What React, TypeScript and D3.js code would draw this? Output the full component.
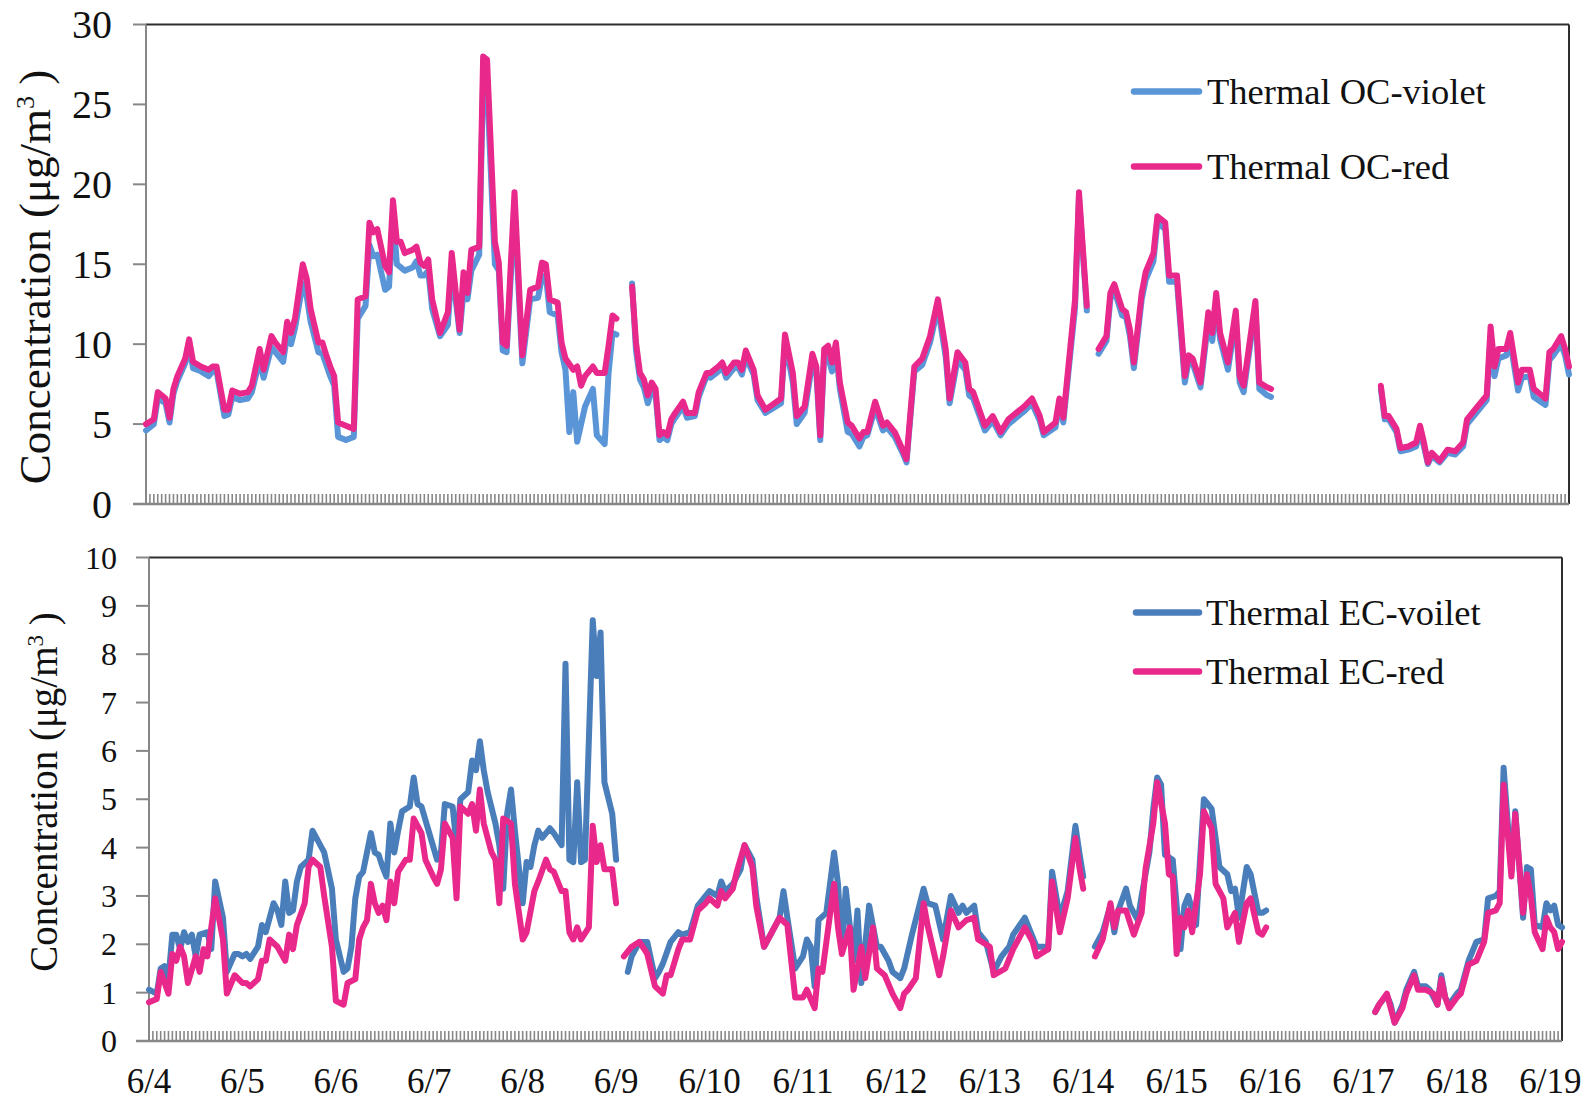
import React from "react";
import * as d3 from "d3";

type Pt = [number, number]; // [hour since 6/4 00:00, concentration]

const DAY_LABELS = ["6/4", "6/5", "6/6", "6/7", "6/8", "6/9", "6/10", "6/11", "6/12", "6/13", "6/14", "6/15", "6/16", "6/17", "6/18", "6/19"];
const HOURS_PER_DAY = 24;
const HOUR_COUNT = 364;

const OC_TICKS = [0, 5, 10, 15, 20, 25, 30];
const EC_TICKS = [0, 1, 2, 3, 4, 5, 6, 7, 8, 9, 10];

const OC_LEGEND = ["Thermal OC-violet", "Thermal OC-red"];
const EC_LEGEND = ["Thermal EC-voilet", "Thermal EC-red"];

// Hourly thermal OC, split into the measured runs
const ocViolet: Pt[][] = [
  [[0,4.6],[2,5.0],[3,6.6],[5,6.3],[6,5.1],[7,6.9],[8,7.7],[10,8.8],[11,9.9],[12,8.5],[14,8.3],[16,8.0],[17,8.3],[18,8.3],[20,5.5],[21,5.6],[22,6.7],[24,6.5],[26,6.6],[27,7.0],[29,9.0],[30,7.9],[32,9.8],[33,9.5],[35,8.9],[36,10.6],[37,10.0],[38,11.0],[40,13.8],[41,13.0],[42,11.4],[44,9.5],[45,9.4],[46,8.7],[47,8.0],[48,7.4],[49,4.2],[51,4.0],[53,4.2],[54,11.6],[56,12.4],[57,16.2],[58,15.5],[59,15.6],[61,13.4],[62,13.6],[63,18.2],[64,15.0],[65,14.8],[66,14.6],[68,14.8],[69,15.2],[70,14.3],[71,14.3],[72,14.6],[73,12.2],[75,10.5],[77,11.2],[78,14.8],[80,10.7],[81,13.3],[82,12.8],[83,14.6],[85,15.6],[86,26.5],[87,26.2],[89,15.0],[90,14.6],[91,9.6],[92,9.5],[94,18.5],[96,8.8],[98,12.8],[100,12.9],[101,14.2],[102,14.3],[103,12.0],[105,11.8],[106,9.5],[107,8.4],[108,4.5],[109,7.0],[110,3.9],[112,6.1],[114,7.2],[115,4.3],[117,3.75],[118,8.2],[119,10.7],[120,10.6]],
  [[124,13.8],[125,9.6],[126,7.8],[127,7.3],[128,6.3],[129,7.1],[130,6.8],[131,4.0],[132,4.2],[133,4.0],[134,5.0],[135,5.4],[137,6.1],[138,5.4],[140,5.5],[141,6.7],[143,8.0],[144,7.9],[146,8.3],[147,8.6],[148,7.9],[150,8.5],[151,8.6],[152,8.1],[153,9.2],[155,8.1],[156,6.5],[158,5.7],[160,6.0],[162,6.3],[163,10.2],[165,7.6],[166,5.0],[168,5.7],[170,8.9],[171,8.2],[172,4.0],[173,9.3],[174,9.2],[175,8.3],[176,9.6],[177,7.2],[179,4.5],[180,4.4],[182,3.6],[183,4.2],[184,4.3],[186,6.0],[188,4.6],[189,4.8],[191,4.2],[193,3.2],[194,2.6],[196,8.3],[198,8.7],[200,10.1],[202,12.3],[204,9.2],[205,6.3],[207,9.0],[209,8.4],[210,6.8],[211,6.6],[214,4.6],[216,5.2],[218,4.3],[220,5.0],[222,5.4],[224,5.8],[226,6.3],[228,5.2],[229,4.3],[232,4.8],[233,6.3],[234,5.1],[237,12.3],[238,19.2],[240,12.1]],
  [[243,9.4],[245,10.2],[246,12.8],[247,13.4],[249,11.8],[250,11.7],[251,10.5],[252,8.5],[254,12.8],[255,14.0],[257,15.2],[258,17.6],[260,17.2],[261,13.9],[263,13.9],[265,7.6],[266,9.0],[267,8.8],[269,7.3],[271,11.5],[272,10.2],[273,12.7],[274,10.3],[276,8.4],[278,11.6],[279,7.6],[280,7.0],[283,12.3],[284,7.2],[286,6.8],[287,6.7]],
  [[315,7.2],[316,5.3],[317,5.3],[319,4.5],[320,3.3],[322,3.4],[324,3.6],[325,4.6],[326,3.6],[327,2.5],[328,3.0],[330,2.6],[332,3.2],[334,3.1],[336,3.6],[337,5.0],[339,5.6],[342,6.5],[343,10.4],[344,8.0],[345,9.1],[347,9.3],[348,10.2],[350,7.1],[351,7.9],[353,8.0],[354,6.7],[357,6.2],[358,9.0],[359,9.3],[361,10.0],[362,9.3],[363,8.1]],
];

const ocRed: Pt[][] = [
  [[0,5.0],[2,5.3],[3,7.0],[5,6.6],[6,5.4],[7,7.2],[8,8.0],[10,9.1],[11,10.3],[12,8.9],[14,8.6],[16,8.4],[17,8.6],[18,8.6],[20,5.9],[21,5.9],[22,7.1],[24,6.9],[26,7.0],[27,7.4],[29,9.7],[30,8.4],[32,10.5],[33,10.1],[35,9.5],[36,11.4],[37,10.7],[38,11.6],[40,15.0],[41,14.1],[42,12.2],[44,10.1],[45,10.1],[46,9.3],[47,8.6],[48,8.0],[49,5.1],[51,4.9],[53,4.7],[54,12.8],[56,13.0],[57,17.6],[58,17.0],[59,17.2],[61,14.9],[62,14.5],[63,19.0],[64,16.4],[65,16.4],[66,15.7],[68,15.9],[69,16.1],[70,15.1],[71,14.9],[72,15.3],[73,12.8],[75,10.7],[77,12.0],[78,15.7],[80,10.9],[81,14.5],[82,13.2],[83,15.9],[85,16.1],[86,28.0],[87,27.8],[89,16.4],[90,15.1],[91,10.1],[92,9.9],[94,19.5],[96,9.3],[98,13.4],[100,13.6],[101,15.1],[102,15.0],[103,12.8],[105,12.6],[106,10.1],[107,9.1],[109,8.4],[110,8.6],[111,7.4],[112,8.0],[114,8.6],[115,8.2],[117,8.2],[118,9.9],[119,11.8],[120,11.6]],
  [[124,13.6],[125,10.1],[126,8.2],[127,7.8],[128,6.8],[129,7.6],[130,7.2],[131,4.3],[132,4.5],[133,4.3],[134,5.3],[135,5.7],[137,6.4],[138,5.7],[140,5.7],[141,7.0],[143,8.2],[144,8.2],[146,8.6],[147,8.85],[148,8.2],[150,8.85],[151,8.85],[152,8.4],[153,9.6],[155,8.4],[156,6.8],[158,5.9],[160,6.25],[162,6.6],[163,10.6],[165,8.2],[166,5.5],[168,6.1],[170,9.4],[171,8.6],[172,4.3],[173,9.7],[174,9.9],[175,8.85],[176,10.1],[177,7.6],[179,5.1],[180,4.9],[182,4.1],[183,4.5],[184,4.5],[186,6.4],[188,4.9],[189,5.1],[191,4.5],[193,3.4],[194,2.8],[196,8.6],[198,9.1],[200,10.5],[202,12.8],[204,9.7],[205,6.6],[207,9.5],[209,8.85],[210,7.2],[211,7.0],[214,4.9],[216,5.5],[218,4.5],[220,5.3],[222,5.7],[224,6.1],[226,6.6],[228,5.5],[229,4.5],[232,5.1],[233,6.6],[234,5.4],[237,12.8],[238,19.5],[240,12.4]],
  [[243,9.7],[245,10.5],[246,13.2],[247,13.75],[249,12.2],[250,12.0],[251,10.9],[252,8.85],[254,13.2],[255,14.5],[257,15.7],[258,18.0],[260,17.6],[261,14.3],[263,14.3],[265,8.0],[266,9.3],[267,9.1],[269,7.6],[271,12.0],[272,10.7],[273,13.2],[274,10.7],[276,8.85],[278,12.1],[279,8.0],[280,7.4],[283,12.7],[284,7.6],[286,7.3],[287,7.2]],
  [[315,7.4],[316,5.5],[317,5.5],[319,4.7],[320,3.5],[322,3.6],[324,3.85],[325,4.9],[326,3.85],[327,2.6],[328,3.2],[330,2.7],[332,3.4],[334,3.3],[336,3.85],[337,5.3],[339,5.9],[342,6.8],[343,11.1],[344,8.6],[345,9.7],[347,9.7],[348,10.7],[350,7.6],[351,8.4],[353,8.4],[354,7.2],[357,6.6],[358,9.5],[359,9.7],[361,10.5],[362,9.7],[363,8.6]],
];

// Hourly thermal EC, split into the measured runs
const ecViolet: Pt[][] = [
  [[0,1.06],[2,0.98],[3,1.5],[4,1.55],[5,1.3],[6,2.2],[7,2.2],[8,1.9],[9,2.25],[10,2.05],[11,2.2],[12,1.75],[13,2.2],[15,2.25],[16,1.9],[17,3.3],[19,2.55],[20,1.43],[22,1.8],[23,1.8],[24,1.75],[25,1.8],[26,1.7],[28,1.95],[29,2.4],[30,2.25],[32,2.85],[33,2.7],[34,2.4],[35,3.3],[36,2.65],[37,2.7],[38,3.3],[39,3.6],[41,3.75],[42,4.35],[44,4.05],[45,3.9],[47,3.15],[48,2.1],[50,1.43],[51,1.5],[52,1.95],[53,2.95],[54,3.4],[55,3.5],[57,4.3],[58,3.9],[59,3.85],[60,3.6],[61,3.4],[62,4.5],[63,3.9],[64,4.35],[65,4.75],[67,4.85],[68,5.45],[69,4.9],[70,4.85],[72,4.3],[74,3.75],[75,3.9],[76,4.9],[78,4.85],[79,4.05],[80,5.0],[82,5.15],[83,5.8],[84,5.6],[85,6.2],[86,5.6],[87,5.15],[89,4.5],[90,4.05],[91,3.15],[92,4.7],[93,5.2],[94,4.35],[96,2.85],[97,3.7],[98,3.6],[99,4.05],[100,4.35],[101,4.2],[103,4.4],[104,4.3],[106,4.05],[107,7.8],[108,3.75],[109,3.7],[110,5.35],[111,3.7],[112,3.75],[114,8.7],[115,7.55],[116,8.45],[117,5.35],[119,4.7],[120,3.75]],
  [[123,1.43],[124,1.75],[126,2.05],[128,2.05],[130,1.3],[131,1.43],[132,1.6],[134,2.05],[136,2.25],[137,2.2],[139,2.25],[141,2.8],[143,3.0],[144,3.1],[146,3.0],[147,3.3],[148,3.1],[150,3.25],[152,3.55],[153,4.05],[155,3.75],[156,3.0],[158,1.95],[160,2.25],[162,2.55],[163,3.1],[164,2.55],[166,1.5],[168,1.75],[169,2.1],[170,1.95],[171,1.13],[172,2.5],[174,2.65],[176,3.9],[177,3.25],[178,1.9],[179,3.15],[181,1.66],[182,2.7],[183,1.2],[185,2.8],[187,1.95],[188,1.95],[190,1.66],[191,1.43],[193,1.3],[194,1.5],[196,2.2],[199,3.15],[200,2.85],[202,2.8],[204,2.1],[206,3.0],[208,2.65],[209,2.8],[210,2.65],[212,2.8],[213,2.25],[215,2.05],[217,1.43],[219,1.75],[221,1.95],[222,2.2],[225,2.55],[226,2.35],[228,1.95],[230,1.95],[231,1.9],[232,3.5],[234,2.55],[236,3.1],[238,4.45],[239,3.9],[240,3.4]],
  [[243,1.95],[245,2.25],[247,2.8],[248,2.25],[249,2.7],[251,3.15],[252,2.8],[254,2.5],[255,3.0],[257,3.9],[258,4.8],[259,5.45],[260,5.3],[261,3.85],[263,3.75],[264,2.8],[265,1.9],[266,2.8],[267,3.0],[269,2.4],[270,3.75],[271,5.0],[273,4.8],[274,4.2],[275,3.6],[277,3.45],[278,3.1],[279,3.15],[280,2.55],[282,3.6],[283,3.45],[285,2.65],[286,2.65],[287,2.7]],
  [[315,0.6],[316,0.75],[318,0.95],[319,0.75],[320,0.38],[322,0.75],[323,1.06],[325,1.43],[326,1.13],[328,1.13],[329,1.06],[331,0.75],[332,1.36],[333,0.9],[334,0.75],[336,0.98],[337,1.06],[339,1.66],[341,2.05],[343,2.1],[344,2.95],[346,3.0],[347,3.1],[348,5.65],[350,3.5],[351,4.75],[353,2.55],[354,3.6],[355,3.55],[356,2.4],[358,2.35],[359,2.85],[360,2.7],[361,2.8],[362,2.4],[363,2.35]],
];

const ecRed: Pt[][] = [
  [[0,0.8],[2,0.87],[3,1.43],[5,0.98],[6,1.8],[7,1.66],[8,1.95],[9,1.75],[10,1.2],[12,1.75],[13,1.43],[14,1.9],[15,1.75],[17,2.95],[19,2.1],[20,0.98],[22,1.36],[24,1.2],[25,1.2],[26,1.13],[28,1.28],[29,1.66],[30,1.66],[31,2.1],[33,1.95],[35,1.66],[36,2.2],[37,1.9],[38,2.4],[40,2.85],[41,3.6],[42,3.75],[44,3.6],[45,3.0],[47,1.95],[48,0.83],[50,0.75],[51,1.2],[53,1.28],[54,2.1],[55,2.35],[56,2.5],[57,3.25],[58,2.85],[59,2.65],[60,2.8],[61,2.5],[62,3.3],[63,2.85],[64,3.5],[66,3.75],[67,3.75],[68,4.6],[70,4.3],[71,3.75],[73,3.4],[74,3.25],[75,3.55],[76,4.5],[78,4.2],[79,2.95],[80,4.85],[82,4.7],[83,4.9],[84,4.35],[85,5.2],[86,4.5],[88,3.9],[89,3.75],[90,2.85],[91,4.6],[93,4.5],[94,3.25],[96,2.1],[97,2.25],[99,3.1],[100,3.3],[102,3.75],[103,3.55],[104,3.5],[106,3.1],[107,3.1],[108,2.25],[109,2.1],[110,2.35],[111,2.1],[113,2.35],[114,4.45],[115,3.7],[116,4.05],[117,3.55],[119,3.55],[120,2.85]],
  [[122,1.75],[124,1.95],[126,2.05],[128,1.8],[130,1.13],[132,0.98],[133,1.36],[134,1.36],[136,1.9],[137,2.1],[139,2.1],[141,2.7],[143,2.85],[144,2.95],[146,2.8],[147,3.1],[148,2.95],[150,3.15],[151,3.5],[153,4.05],[155,3.6],[156,2.8],[158,1.95],[160,2.25],[162,2.55],[164,2.4],[166,0.9],[167,0.9],[168,0.9],[169,1.06],[171,0.68],[172,1.5],[173,1.43],[176,3.25],[177,2.35],[178,1.8],[180,2.35],[181,1.06],[183,1.95],[184,1.3],[186,2.35],[187,1.5],[189,1.36],[191,0.98],[193,0.68],[194,0.98],[195,1.06],[197,1.3],[199,2.85],[200,2.4],[203,1.36],[204,1.75],[206,2.7],[208,2.35],[210,2.5],[212,2.55],[213,2.1],[216,1.95],[217,1.36],[220,1.5],[222,1.9],[225,2.35],[227,2.05],[228,1.75],[231,1.9],[232,3.3],[234,2.25],[236,2.95],[238,4.2],[239,3.6],[240,3.15]],
  [[243,1.75],[245,2.1],[247,2.85],[248,2.35],[249,2.7],[251,2.7],[253,2.2],[255,2.65],[256,3.55],[258,4.5],[259,5.35],[261,4.5],[262,3.45],[263,3.4],[264,1.8],[265,2.55],[266,2.35],[267,2.7],[268,2.25],[270,3.45],[271,4.75],[273,4.4],[274,3.25],[275,3.1],[276,2.95],[277,2.35],[279,2.65],[280,2.05],[282,2.85],[283,2.95],[285,2.25],[286,2.2],[287,2.35]],
  [[315,0.6],[316,0.75],[318,0.98],[319,0.68],[320,0.38],[322,0.68],[323,0.98],[325,1.36],[326,1.06],[328,1.06],[330,0.98],[331,0.75],[332,1.28],[333,0.9],[334,0.68],[336,0.9],[337,0.98],[339,1.58],[341,1.66],[343,2.05],[344,2.65],[346,2.7],[347,2.85],[348,5.3],[350,3.4],[351,4.7],[353,2.65],[354,3.45],[355,3.0],[356,2.25],[358,1.9],[359,2.55],[360,2.35],[361,2.25],[362,1.9],[363,2.05]],
];

const FONT = '"Liberation Serif", "Times New Roman", Times, serif';
const PINK = "#E9288B";
const OC_BLUE = "#5A95D8";
const EC_BLUE = "#4A7EBB";
const AXIS_GRAY = "#878787";
const FRAME_DARK = "#2E2E2E";

interface Series { runs: Pt[][]; color: string }
interface PanelProps {
  left: number; right: number; top: number; bottom: number;
  yMax: number; ticks: number[]; tickFont: number; tickRight: number;
  titleX: number; titleY: number; titleFont: number;
  series: Series[];
  legendLabels: string[]; legendColors: string[]; legendYs: number[];
  legendX1: number; legendX2: number; legendTextX: number; legendFont: number;
  dayLabels?: { y: number; font: number };
}

function Panel(p: PanelProps) {
  const x = d3.scaleLinear().domain([0, HOUR_COUNT - 1]).range([p.left, p.right]);
  const y = d3.scaleLinear().domain([0, p.yMax]).range([p.bottom, p.top]);
  const line = d3.line<Pt>().x((d) => x(d[0])).y((d) => y(d[1]));
  const hourTicks = d3.range(1, HOUR_COUNT);
  const sup = Math.round(p.titleFont * 0.58);
  return (
    <g>
      {/* hourly category ticks along the base */}
      {hourTicks.map((i) => (
        <line key={"h" + i} x1={x(i)} x2={x(i)} y1={p.bottom} y2={p.bottom - 10} stroke={AXIS_GRAY} strokeWidth={1.6} />
      ))}
      {/* frame */}
      <line x1={p.left} x2={p.right} y1={p.top} y2={p.top} stroke={FRAME_DARK} strokeWidth={2} />
      <line x1={p.right} x2={p.right} y1={p.top} y2={p.bottom} stroke={FRAME_DARK} strokeWidth={2} />
      <line x1={p.left} x2={p.left} y1={p.top} y2={p.bottom} stroke={AXIS_GRAY} strokeWidth={2} />
      <line x1={p.left - 13} x2={p.right} y1={p.bottom} y2={p.bottom} stroke={AXIS_GRAY} strokeWidth={2.5} />
      {/* value axis */}
      {p.ticks.map((t) => (
        <g key={"t" + t}>
          <line x1={p.left - 13} x2={p.left} y1={y(t)} y2={y(t)} stroke={AXIS_GRAY} strokeWidth={2} />
          <text x={p.tickRight} y={y(t)} textAnchor="end" dominantBaseline="central" fontFamily={FONT} fontSize={p.tickFont} fill="#111">{t}</text>
        </g>
      ))}
      <text transform={`translate(${p.titleX},${p.titleY}) rotate(-90)`} textAnchor="middle" fontFamily={FONT} fontSize={p.titleFont} fill="#111">
        Concentration (μg/m<tspan dy={-p.titleFont * 0.36} fontSize={sup}>3</tspan><tspan dy={p.titleFont * 0.36}> )</tspan>
      </text>
      {/* series */}
      {p.series.map((s, si) => (
        <g key={"s" + si}>
          {s.runs.map((run, ri) => (
            <path key={ri} d={line(run) ?? ""} fill="none" stroke={s.color} strokeWidth={6} strokeLinejoin="round" strokeLinecap="round" />
          ))}
        </g>
      ))}
      {/* legend */}
      {p.legendLabels.map((lab, i) => (
        <g key={"l" + i}>
          <line x1={p.legendX1} x2={p.legendX2} y1={p.legendYs[i]} y2={p.legendYs[i]} stroke={p.legendColors[i]} strokeWidth={6.5} strokeLinecap="round" />
          <text x={p.legendTextX} y={p.legendYs[i] + 12} fontFamily={FONT} fontSize={p.legendFont} fill="#111">{lab}</text>
        </g>
      ))}
      {p.dayLabels && DAY_LABELS.map((d, i) => (
        <text key={"d" + i} x={x(i * HOURS_PER_DAY)} y={p.dayLabels!.y} textAnchor="middle" fontFamily={FONT} fontSize={p.dayLabels!.font} fill="#111">{d}</text>
      ))}
    </g>
  );
}

export default function App() {
  return (
    <svg width={1587} height={1102} viewBox="0 0 1587 1102" style={{ position: "absolute", left: 0, top: 0, background: "#fff" }}>
      <rect x={0} y={0} width={1587} height={1102} fill="#fff" />
      <Panel
        left={146} right={1569} top={24.5} bottom={504}
        yMax={30} ticks={OC_TICKS} tickFont={40} tickRight={112}
        titleX={50} titleY={277} titleFont={45}
        series={[{ runs: ocViolet, color: OC_BLUE }, { runs: ocRed, color: PINK }]}
        legendLabels={OC_LEGEND} legendColors={[OC_BLUE, PINK]} legendYs={[91.5, 166.5]}
        legendX1={1134} legendX2={1199} legendTextX={1207} legendFont={36.5}
      />
      <Panel
        left={149} right={1562} top={557.5} bottom={1041}
        yMax={10} ticks={EC_TICKS} tickFont={32} tickRight={117}
        titleX={57} titleY={792} titleFont={39}
        series={[{ runs: ecViolet, color: EC_BLUE }, { runs: ecRed, color: PINK }]}
        legendLabels={EC_LEGEND} legendColors={[EC_BLUE, PINK]} legendYs={[612.5, 671.5]}
        legendX1={1136} legendX2={1199} legendTextX={1206} legendFont={36.5}
        dayLabels={{ y: 1093, font: 35 }}
      />
    </svg>
  );
}
